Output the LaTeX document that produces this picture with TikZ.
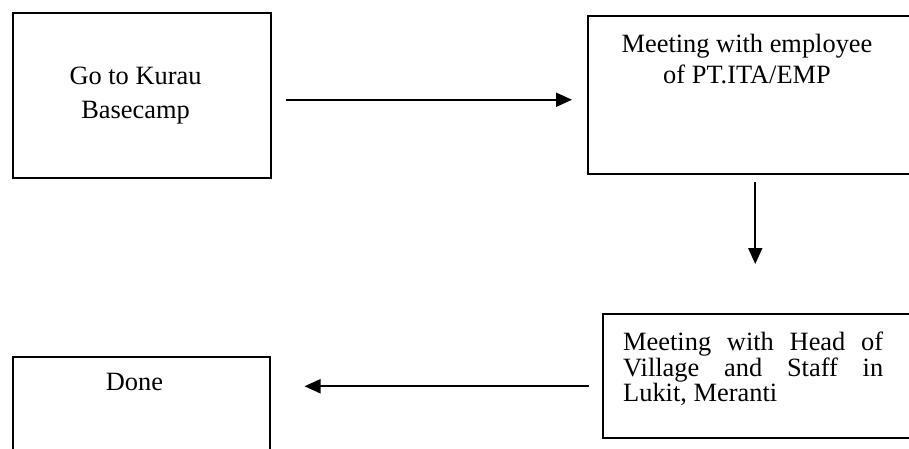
\documentclass[tikz,border=0pt]{standalone}
\usepackage{fontspec}
\setmainfont{Liberation Serif}
\usetikzlibrary{arrows.meta}

\tikzset{
  stepbox/.style={draw=black, line width=1.5pt, rectangle, inner sep=0pt, anchor=north west},
  steptext/.style={inner sep=0pt, font=\fontsize{26.4}{31}\selectfont},
  flow/.style={draw=black, line width=2pt, -{Triangle[length=16pt,width=14pt]}}
}

\begin{document}
\begin{tikzpicture}[x=1pt, y=-1pt]
  \useasboundingbox (0,0) rectangle (909,448);
  \clip (0,0) rectangle (909,448);

  % boxes
  \node[stepbox, minimum width=258pt, minimum height=165pt] (b1) at (12,12) {};
  \node[stepbox, minimum width=325pt, minimum height=158pt] (b2) at (587,15) {};
  \node[stepbox, minimum width=310pt, minimum height=124pt] (b3) at (602,313) {};
  \node[stepbox, minimum width=257pt, minimum height=120pt] (b4) at (12,356) {};

  % box texts
  \node[steptext, font=\fontsize{26.4}{34}\selectfont, align=center, anchor=north] (t1) at (135.5,67) {Go to Kurau\\Basecamp};
  \node[steptext, align=center, anchor=north] (t2) at (747,34) {Meeting with employee\\of PT.ITA/EMP};
  \node[steptext, font=\fontsize{26.4}{25.5}\selectfont, text width=260pt, align=justify, anchor=north west] (t3) at (623,332)
    {\hyphenpenalty=10000 Meeting with Head of\linebreak Village and Staff in\linebreak Lukit, Meranti};
  \node[steptext, anchor=north] (t4) at (134.5,373) {Done};

  % connectors
  \draw[flow, shorten <=14pt, shorten >=15pt]
    ([yshift=-4.5pt]b1.east) -- ([yshift=-4.5pt]b1.east -| b2.west);
  \draw[flow, shorten <=7pt, shorten >=49pt]
    ([xshift=5pt]b2.south) -- ([xshift=5pt]b2.south |- b3.north);
  \draw[flow, shorten <=13pt, shorten >=34pt]
    ([yshift=-10.5pt]b3.west) -- ([yshift=-10.5pt]b3.west -| b4.east);
\end{tikzpicture}
\end{document}
